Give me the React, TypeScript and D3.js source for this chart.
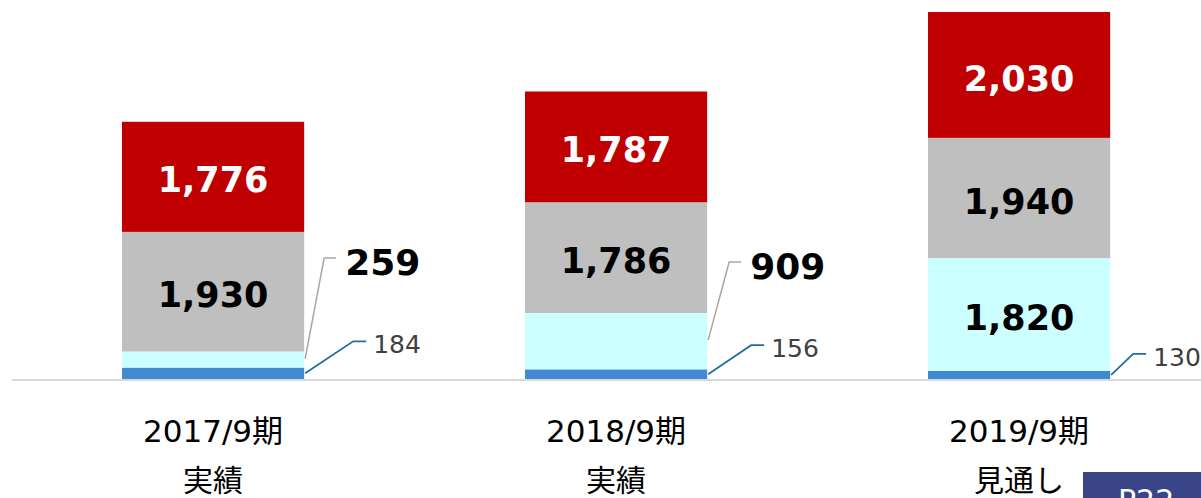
import React from 'react';
import * as d3 from 'd3';

// periods (two label lines each)
const periods = ['2017/9期', '2018/9期', '2019/9期'];
const periodNotes = ['実績', '実績', '見通し'];

// stacked series, bottom to top
const seriesNames = ['blue', 'cyan', 'gray', 'red'];
const blueVals = [184, 156, 130];
const cyanVals = [259, 909, 1820];
const grayVals = [1930, 1786, 1940];
const redVals = [1776, 1787, 2030];

const W = 1201;
const H = 498;

const colors: Record<string, string> = {
  blue: '#4189d0',
  cyan: '#ccffff',
  gray: '#bfbfbf',
  red: '#c00000',
};

const NUM_FONT = "'DejaVu Sans', Verdana, sans-serif";
const JP_FONT = "'DejaVu Sans', 'Noto Sans CJK JP', sans-serif";

export default function App() {
  const rows = periods.map((p, i) => ({
    period: p,
    blue: blueVals[i],
    cyan: cyanVals[i],
    gray: grayVals[i],
    red: redVals[i],
  }));

  const stack = d3.stack<any>().keys(seriesNames);
  const layers = stack(rows);

  const baseY = 379;
  const topY = 12;
  const maxTotal = d3.max(rows, (r) => r.blue + r.cyan + r.gray + r.red) as number;

  const y = d3.scaleLinear().domain([0, maxTotal]).range([baseY, topY]);
  const x = d3
    .scaleBand()
    .domain(periods)
    .range([122, 122 + 403 * (3 - 0.548)])
    .paddingInner(0.548)
    .paddingOuter(0);

  const fmt = d3.format(',');

  // callout geometry for small segments (relative to bar right edge)
  const blueCallout = [
    { dx: 48, dy: -32 },
    { dx: 43, dy: -29 },
    { dx: 22, dy: -21 },
  ];
  const cyanCallout = [
    { dx: 19, ey: 258 },
    { dx: 21, ey: 262 },
    null,
  ];

  const blueLayer = layers[0];
  const cyanLayer = layers[1];

  return (
    <svg
      width={W}
      height={H}
      style={{ position: 'absolute', left: 0, top: 0, background: '#fff' }}
    >
      <rect width={W} height={H} fill="#fff" />
      {/* bars */}
      {layers.map((layer) => (
        <g key={layer.key}>
          {layer.map((d, i) => (
            <rect
              key={i}
              x={x(periods[i])}
              width={x.bandwidth()}
              y={y(d[1])}
              height={y(d[0]) - y(d[1])}
              fill={colors[layer.key]}
            />
          ))}
        </g>
      ))}

      {/* axis baseline */}
      <line x1={12} x2={W} y1={380} y2={380} stroke="#d9d9d9" strokeWidth={2} />

      {/* inside labels */}
      {layers.map((layer) =>
        layer.map((d, i) => {
          const v = d[1] - d[0];
          const h = y(d[0]) - y(d[1]);
          if (h < 60) return null;
          const cx = (x(periods[i]) as number) + x.bandwidth() / 2;
          const cy = (y(d[0]) + y(d[1])) / 2;
          return (
            <text
              key={layer.key + i}
              x={cx}
              y={cy + 3}
              dy="0.36em"
              textAnchor="middle"
              fontFamily={NUM_FONT}
              fontWeight="bold"
              fontSize={35}
              fill={layer.key === 'red' ? '#fff' : '#000'}
            >
              {fmt(v)}
            </text>
          );
        })
      )}

      {/* cyan callouts */}
      {cyanLayer.map((d, i) => {
        const c = cyanCallout[i];
        if (!c) return null;
        const x0 = (x(periods[i]) as number) + x.bandwidth() + 1;
        const y0 = (y(d[0]) + y(d[1])) / 2 - 1;
        const ex = x0 + c.dx;
        return (
          <g key={'c' + i}>
            <polyline
              points={`${x0},${y0} ${ex},${c.ey} ${ex + 12},${c.ey}`}
              fill="none"
              stroke="#a6a6a6"
              strokeWidth={1.5}
            />
            <text
              x={ex + 21}
              y={c.ey + 4}
              dy="0.36em"
              fontFamily={NUM_FONT}
              fontWeight="bold"
              fontSize={36}
              fill="#000"
            >
              {fmt(d[1] - d[0])}
            </text>
          </g>
        );
      })}

      {/* blue callouts */}
      {blueLayer.map((d, i) => {
        const c = blueCallout[i];
        const x0 = (x(periods[i]) as number) + x.bandwidth() + 1;
        const y0 = (y(d[0]) + y(d[1])) / 2;
        const ex = x0 + c.dx;
        const ey = y0 + c.dy;
        return (
          <g key={'b' + i}>
            <polyline
              points={`${x0},${y0} ${ex},${ey} ${ex + 13},${ey}`}
              fill="none"
              stroke="#1f6f9f"
              strokeWidth={1.8}
            />
            <text
              x={ex + 20}
              y={ey + 3}
              dy="0.36em"
              fontFamily={NUM_FONT}
              fontSize={25}
              fill="#404040"
            >
              {fmt(d[1] - d[0])}
            </text>
          </g>
        );
      })}

      {/* category labels */}
      {periods.map((p, i) => {
        const cx = (x(p) as number) + x.bandwidth() / 2;
        return (
          <g key={p}>
            <text
              x={cx}
              y={442}
              textAnchor="middle"
              fontFamily={JP_FONT}
              fontSize={31}
              fill="#000"
            >
              {p}
            </text>
            <text
              x={cx}
              y={491}
              textAnchor="middle"
              fontFamily={JP_FONT}
              fontSize={30}
              fill="#000"
            >
              {periodNotes[i]}
            </text>
          </g>
        );
      })}

      {/* page tag, cut off by the frame edge as in the source slide */}
      <rect x={1083} y={472} width={140} height={40} fill="#394587" />
      <text x={1118} y={511} fontFamily={NUM_FONT} fontSize={30} fill="#fff">
        P22
      </text>
    </svg>
  );
}
